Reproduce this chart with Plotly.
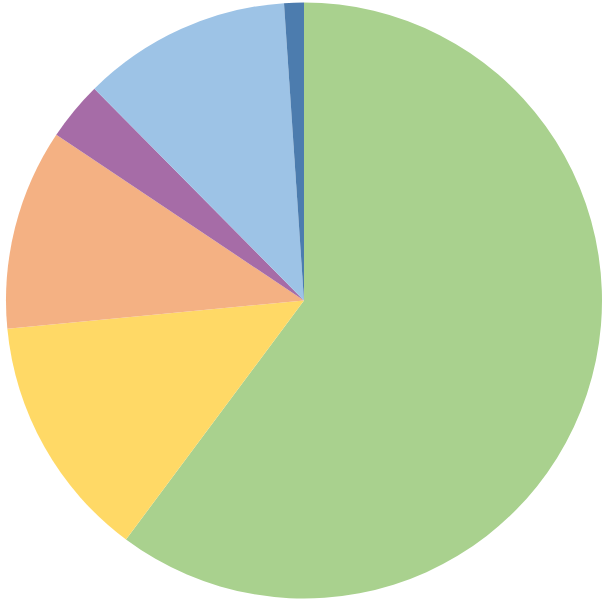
import plotly.graph_objects as go

labels = ["A", "B", "C", "D", "E", "F"]
values = [60.2, 13.3, 10.9, 3.2, 11.35, 1.07]
colors = ["#A9D18E", "#FFD966", "#F4B183", "#A66CA7", "#9DC3E6", "#4C7CAE"]

fig = go.Figure(go.Pie(
    labels=labels,
    values=values,
    sort=False,
    direction="clockwise",
    rotation=0,
    marker=dict(colors=colors, line=dict(width=0)),
    textinfo="none",
    hoverinfo="label+percent",
    domain=dict(x=[6/609, 602/609], y=[1-598.5/604, 1-2.5/604]),
))
fig.update_layout(
    width=609, height=604,
    margin=dict(l=0, r=0, t=0, b=0),
    showlegend=False,
    paper_bgcolor="white",
    plot_bgcolor="white",
)
fig.write_html(
    "out.html",
    config={"displayModeBar": False},
    post_script="document.body.style.margin='0';document.body.style.padding='0';",
)
